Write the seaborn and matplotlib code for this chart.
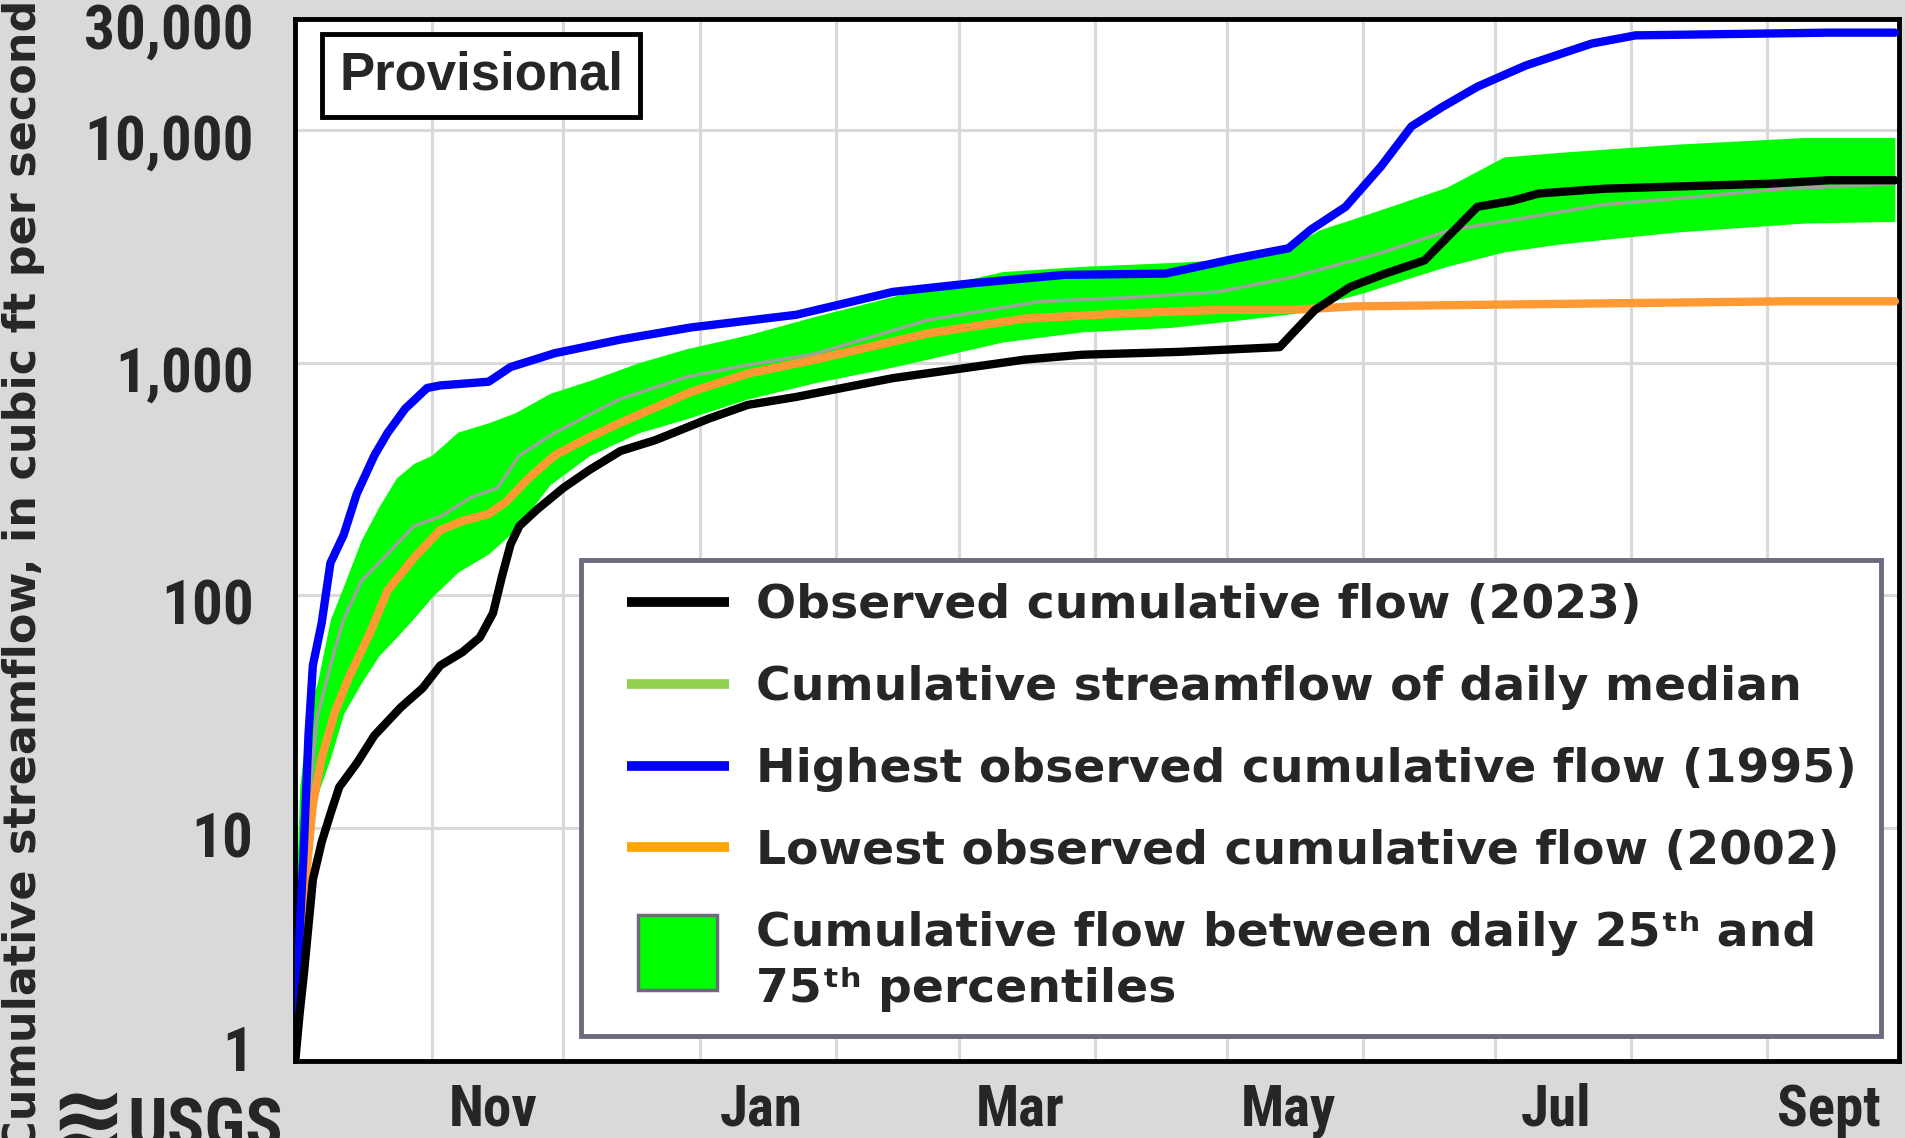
import matplotlib
matplotlib.use('Agg')
import matplotlib.pyplot as plt
import matplotlib.dates as mdates
import matplotlib.ticker as mticker
import matplotlib.transforms as mtransforms
from matplotlib import font_manager
from matplotlib.lines import Line2D
from matplotlib.patches import Patch, Rectangle
from matplotlib.legend_handler import HandlerBase, HandlerPatch
import pandas as pd
import seaborn as sns

# Values: cumulative streamflow (cfs), water year Oct 2022 - Sep 2023
obs_dates = ['2022-10-01', '2022-10-02', '2022-10-03', '2022-10-04', '2022-10-05', '2022-10-07',
             '2022-10-09', '2022-10-11', '2022-10-15', '2022-10-19', '2022-10-25', '2022-10-30',
             '2022-11-03', '2022-11-08', '2022-11-12', '2022-11-15', '2022-11-17', '2022-11-19',
             '2022-11-21', '2022-11-25', '2022-12-01', '2022-12-07', '2022-12-14', '2022-12-22',
             '2023-01-03', '2023-01-12', '2023-01-23', '2023-02-14', '2023-03-02', '2023-03-16',
             '2023-03-29', '2023-04-20', '2023-05-13', '2023-05-16', '2023-05-21', '2023-05-29',
             '2023-06-06', '2023-06-15', '2023-06-21', '2023-06-27', '2023-07-05', '2023-07-11',
             '2023-07-26', '2023-09-01', '2023-09-15', '2023-09-30']
obs_cfs = [1.0, 1.6, 2.4, 3.8, 6, 8.7, 11.5, 15, 19, 25, 33, 40, 50, 57, 66, 84, 120, 166,
           199, 234, 290, 347, 418, 466, 575, 660, 714, 860, 948, 1033, 1084, 1115, 1169, 1343,
           1687, 2120, 2420, 2760, 3600, 4690, 4980, 5350, 5610, 5890, 6100, 6100]

high_dates = ['2022-10-01', '2022-10-02', '2022-10-03', '2022-10-04', '2022-10-05', '2022-10-07',
              '2022-10-09', '2022-10-12', '2022-10-15', '2022-10-19', '2022-10-22', '2022-10-26',
              '2022-10-31', '2022-11-03', '2022-11-14', '2022-11-19', '2022-11-29', '2022-12-14',
              '2022-12-30', '2023-01-23', '2023-02-14', '2023-03-04', '2023-03-25', '2023-04-17',
              '2023-05-03', '2023-05-15', '2023-05-20', '2023-05-28', '2023-06-05', '2023-06-12',
              '2023-06-19', '2023-06-27', '2023-07-08', '2023-07-23', '2023-08-02', '2023-09-15',
              '2023-09-30']
high_cfs = [1.2, 3.6, 8.7, 25, 50, 76, 138, 182, 274, 400, 500, 635, 780, 800, 830, 960, 1100,
            1260, 1420, 1610, 2020, 2200, 2390, 2420, 2810, 3110, 3730, 4690, 6970, 10400, 12600,
            15400, 19000, 23600, 25600, 26300, 26300]

low_dates = ['2022-10-01', '2022-10-03', '2022-10-05', '2022-10-07', '2022-10-10', '2022-10-13',
             '2022-10-18', '2022-10-22', '2022-10-28', '2022-11-03', '2022-11-08', '2022-11-14',
             '2022-11-18', '2022-11-23', '2022-11-29', '2022-12-07', '2022-12-14', '2022-12-30',
             '2023-01-12', '2023-01-27', '2023-02-22', '2023-03-16', '2023-04-07', '2023-04-29',
             '2023-05-16', '2023-05-30', '2023-07-12', '2023-09-05', '2023-09-30']
low_cfs = [1.0, 5, 12.6, 20, 31.5, 43.6, 69, 105, 145, 191, 209, 224, 253, 318, 400, 480, 553,
           750, 900, 1030, 1340, 1550, 1630, 1690, 1690, 1750, 1790, 1840, 1840]

med_dates = ['2022-10-01', '2022-10-03', '2022-10-06', '2022-10-09', '2022-10-12', '2022-10-16',
             '2022-10-22', '2022-10-28', '2022-11-03', '2022-11-10', '2022-11-16', '2022-11-21',
             '2022-11-29', '2022-12-07', '2022-12-14', '2022-12-29', '2023-01-12', '2023-01-27',
             '2023-02-22', '2023-03-20', '2023-04-07', '2023-04-29', '2023-05-16', '2023-06-05',
             '2023-06-21', '2023-07-05', '2023-07-26', '2023-08-15', '2023-09-05', '2023-09-30']
med_cfs = [1.5, 8, 30, 50, 79, 115, 151, 199, 218, 264, 290, 400, 500, 600, 700, 870, 980, 1090,
           1530, 1840, 1900, 2020, 2340, 2970, 3730, 4110, 4800, 5160, 5610, 5890]

band_dates = ['2022-10-01', '2022-10-02', '2022-10-04', '2022-10-06', '2022-10-09', '2022-10-12',
              '2022-10-16', '2022-10-20', '2022-10-24', '2022-10-28', '2022-11-01', '2022-11-07',
              '2022-11-14', '2022-11-20', '2022-11-28', '2022-12-07', '2022-12-18', '2022-12-29',
              '2023-01-12', '2023-01-27', '2023-02-14', '2023-03-11', '2023-03-29', '2023-04-18',
              '2023-05-04', '2023-05-16', '2023-05-22', '2023-06-01', '2023-06-11', '2023-06-20',
              '2023-07-03', '2023-07-16', '2023-08-11', '2023-09-09', '2023-09-30']
p25_cfs = [1.0, 3.0, 10, 13.8, 20, 31, 42, 55, 66, 80, 98, 126, 151, 191, 300, 400, 500, 575,
           700, 820, 960, 1230, 1360, 1420, 1530, 1630, 1780, 2000, 2300, 2600, 3000, 3250, 3650,
           3990, 4060]
p75_cfs = [4, 15, 32, 42, 79, 110, 173, 240, 320, 370, 400, 504, 553, 610, 740, 840, 1000, 1150,
           1320, 1580, 1930, 2470, 2600, 2700, 2800, 3200, 3730, 4300, 4980, 5690, 7680, 8050,
           8710, 9310, 9310]

y_ticks = [1, 10, 100, 1000, 10000, 30000]
month_labels = ['Nov', 'Jan', 'Mar', 'May', 'Jul', 'Sept']
label_dates = ['2022-11-15', '2023-01-15', '2023-03-15', '2023-05-15', '2023-07-15', '2023-09-15']

legend_labels = ['Observed cumulative flow (2023)',
                 'Cumulative streamflow of daily median',
                 'Highest observed cumulative flow (1995)',
                 'Lowest observed cumulative flow (2002)',
                 'Cumulative flow between daily 25\u1d57\u02b0 and\n75\u1d57\u02b0 percentiles']

sns.set_style('white')
names = {f.name for f in font_manager.fontManager.ttflist}
narrow = None
for cand in ['Liberation Sans Narrow', 'Arial Narrow', 'Roboto Condensed', 'Open Sans Condensed',
             'DejaVu Sans Condensed']:
    if cand in names:
        narrow = cand
        break
if narrow is None:
    narrow = 'Liberation Sans'
    ysize, xsize, usgs_size = 40, 38, 42
else:
    ysize, xsize, usgs_size = 44, 41, 50
plt.rcParams['font.family'] = [narrow, 'DejaVu Sans']
plt.rcParams['font.weight'] = 'bold'

fig, ax = plt.subplots(figsize=(19.05, 11.38), dpi=100)
fig.patch.set_facecolor('#d9d9d9')
ax.set_facecolor('white')
fig.subplots_adjust(left=0.155, right=0.997, top=0.983, bottom=0.068)
ax.set_yscale('log')

ax.fill_between(pd.to_datetime(band_dates), p25_cfs, p75_cfs, color='#00ff00', lw=0, zorder=2)
sns.lineplot(x=pd.to_datetime(med_dates), y=med_cfs, color='#9ea39a', ax=ax, zorder=3)
ax.lines[-1].set_linewidth(2.5)
sns.lineplot(x=pd.to_datetime(low_dates), y=low_cfs, color='#ff9933', ax=ax, zorder=4)
ax.lines[-1].set_linewidth(6)
sns.lineplot(x=pd.to_datetime(high_dates), y=high_cfs, color='#0000ff', ax=ax, zorder=5)
ax.lines[-1].set_linewidth(6)
sns.lineplot(x=pd.to_datetime(obs_dates), y=obs_cfs, color='black', ax=ax, zorder=6)
ax.lines[-1].set_linewidth(6)

ax.set_ylim(1, 30000)
ax.set_xlim(pd.Timestamp('2022-10-01'), pd.Timestamp('2023-10-01'))
ax.set_xlabel('')
ax.set_ylabel('')

ax.yaxis.set_major_locator(mticker.FixedLocator(y_ticks))
ax.yaxis.set_major_formatter(mticker.FuncFormatter(lambda v, p: f'{v:,.0f}'))
ax.yaxis.set_minor_locator(mticker.LogLocator(base=10, subs=range(2, 10)))
ax.yaxis.set_minor_formatter(mticker.NullFormatter())
ax.tick_params(axis='y', which='major', direction='in', length=14, width=3, labelsize=ysize, pad=30)
ax.tick_params(axis='y', which='minor', direction='in', length=8, width=2.5)

ax.xaxis.set_major_locator(mdates.MonthLocator(bymonthday=1))
ax.xaxis.set_major_formatter(mticker.NullFormatter())
ax.xaxis.set_minor_locator(mticker.FixedLocator(mdates.date2num(pd.to_datetime(label_dates))))
ax.xaxis.set_minor_formatter(mticker.FixedFormatter(month_labels))
ax.tick_params(axis='x', which='major', direction='in', length=8, width=2)
ax.tick_params(axis='x', which='minor', length=0, labelsize=xsize, pad=16)

ax.grid(True, which='major', color='#d9d9d9', lw=2.2)
ax.set_axisbelow(True)
for s in ax.spines.values():
    s.set_color('black')
    s.set_linewidth(3.5)

# the y labels sit a little below their ticks, except "1" which sits above
for i, tick in enumerate(ax.yaxis.get_major_ticks(len(y_ticks))):
    dy = 0.13 if i == 0 else -0.06
    lab = tick.label1
    lab.set_transform(lab.get_transform() + mtransforms.ScaledTranslation(0, dy, fig.dpi_scale_trans))

fig.text(0.0125, 0.494, 'Cumulative streamflow, in cubic ft per second', rotation=90,
         ha='center', va='center', family='DejaVu Sans', weight='bold', size=32)

ax.text(0.116, 0.946, 'Provisional', transform=ax.transAxes, ha='center', va='center',
        family='Liberation Sans', weight='bold', size=38, zorder=10,
        bbox=dict(boxstyle='square,pad=0.32', fc='white', ec='black', lw=3.5))

fig.text(0.067, -0.008, 'USGS', family=narrow, weight='bold', size=usgs_size, va='baseline')
fig.text(0.026, -0.010, '\u224b', family='DejaVu Sans', weight='bold', size=66, va='baseline')


class ShortLine(HandlerBase):
    def create_artists(self, legend, orig_handle, xdescent, ydescent, width, height, fontsize, trans):
        y = height / 2 - ydescent
        ln = Line2D([-xdescent + 0.18 * width, -xdescent + width], [y, y],
                    color=orig_handle.get_color(), lw=orig_handle.get_linewidth(),
                    solid_capstyle='butt')
        ln.set_transform(trans)
        return [ln]


def band_box(legend, orig_handle, xdescent, ydescent, width, height, fontsize):
    w, h = 57, 54
    cx = -xdescent + 0.59 * width
    cy = -ydescent + height / 2 + 0.2 * fontsize
    return Rectangle((cx - w / 2, cy - h / 2), w, h)


handles = [Line2D([], [], color='black', lw=7),
           Line2D([], [], color='#92d050', lw=7),
           Line2D([], [], color='#0000ff', lw=7),
           Line2D([], [], color='#ffa500', lw=7),
           Patch(facecolor='#00ff00', edgecolor='#6d6a7b', lw=2.5)]
leg = ax.legend(handles, legend_labels,
                handler_map={Line2D: ShortLine(), Patch: HandlerPatch(patch_func=band_box)},
                loc='upper left', bbox_to_anchor=(0.178, 0.481), borderaxespad=0,
                prop={'family': ['DejaVu Sans', 'Noto Sans'], 'weight': 'bold', 'size': 34},
                handlelength=2.63, handletextpad=0.59, borderpad=0.5, labelspacing=0.78,
                frameon=True, fancybox=False, framealpha=1, edgecolor='#6d6a7b')
leg.get_frame().set_linewidth(3.5)
leg.set_zorder(20)
leg.get_texts()[-1].set_linespacing(1.32)

fig.savefig('out.png', dpi=100, facecolor=fig.get_facecolor())
